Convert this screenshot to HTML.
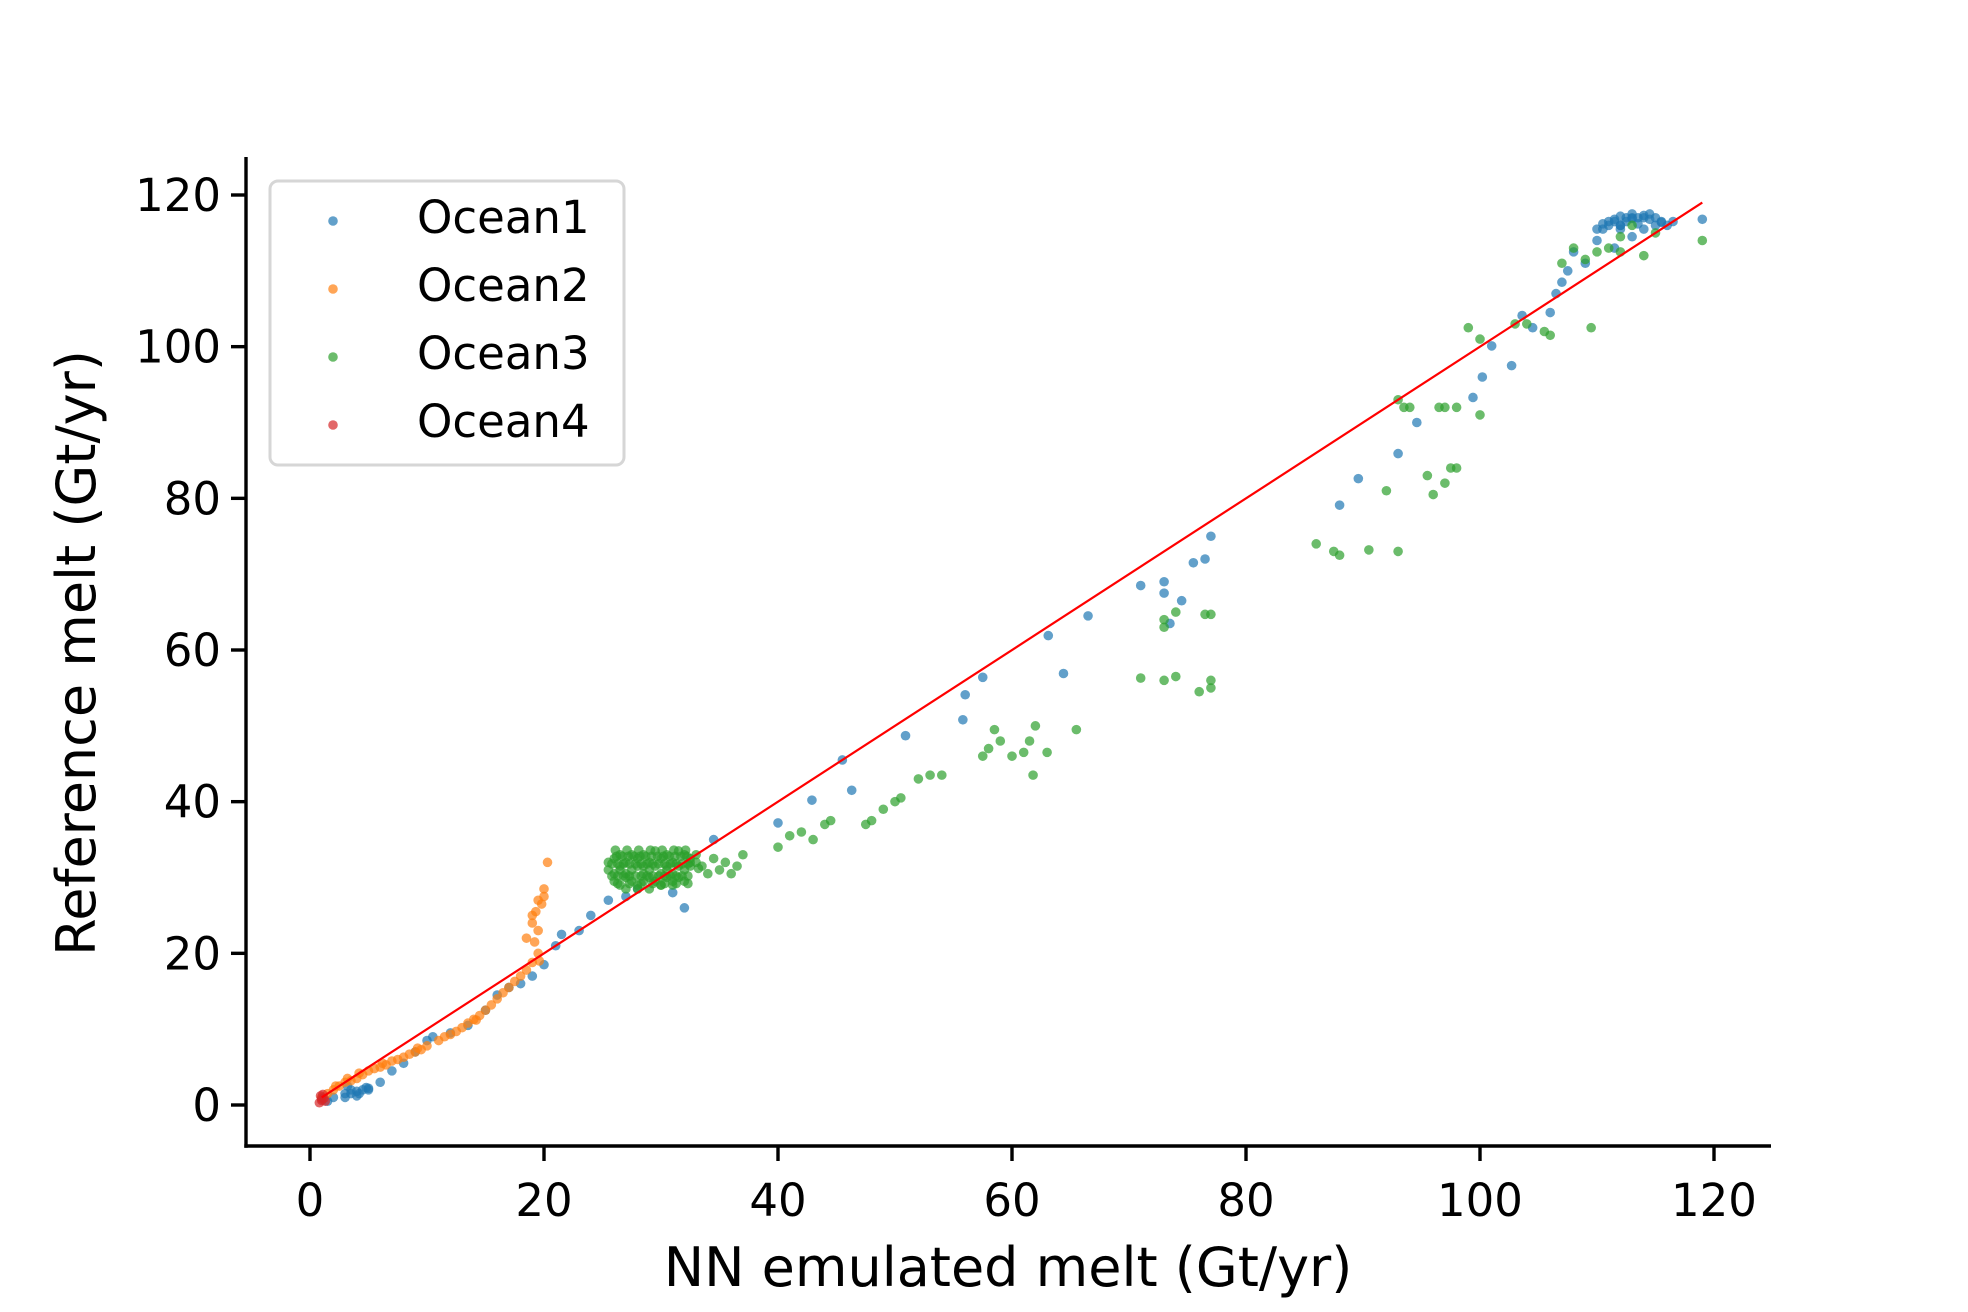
<!DOCTYPE html>
<html><head><meta charset="utf-8"><style>
body{margin:0;background:#fff}
svg{display:block;font-family:"DejaVu Sans","Liberation Sans",sans-serif}
</style></head><body>
<svg id="chart" width="1968" height="1312" viewBox="0 0 1968 1312" xmlns="http://www.w3.org/2000/svg">
<rect width="1968" height="1312" fill="#fff"/>
<g id="marks"></g>
<g id="axes"></g>
<text x="1008" y="1286" font-size="54" text-anchor="middle">NN emulated melt (Gt/yr)</text>
<text transform="translate(95,653) rotate(-90)" font-size="54" text-anchor="middle">Reference melt (Gt/yr)</text>
<g>
<rect x="270" y="181" width="354" height="284" rx="8" fill="#fff" fill-opacity="0.8" stroke="#d6d6d6" stroke-width="3"/>
<g id="legend-entries"></g>
</g>
</svg>
<script>
const xTicks=[0,20,40,60,80,100,120];
const yTicks=[0,20,40,60,80,100,120];
const seriesNames=["Ocean1","Ocean2","Ocean3","Ocean4"];
const colors=["#1f77b4","#ff7f0e","#2ca02c","#d62728"];
const o1x=[1.5,2,3,3.5,4,4.5,5,3,4,5,6,7,8,9,10,10.5,12,13.5,15,16,17,18,19,20,21,21.5,23,24,25.5,27,28,31,32,34.5,40,42.9,45.5,46.3,50.9,55.8,56,57.5,63.1,64.4,66.5,71,73,73,74.5,73.5,75.5,76.5,77,88,89.6,93,94.6,99.4,100.2,101,102.7,103.6,104.5,106,106.5,107,107.5,108,109,110,110.5,111,111.5,112,112.5,113,113.5,114,114.5,115,115.5,116,110,111,112,113,114,115,112,113,111.5,116.5,119,110.5,111.5,112.5,113.5,114.5,115.5,112,113,114,3.5,4.2,4.8,3.2];
const o1y=[0.5,1,1.5,1.5,1.8,2,2.2,1,1.2,2,3,4.5,5.5,7,8.5,9,9.5,10.5,12.5,14.5,15.5,16,17,18.5,21,22.5,23,25,27,27.5,28.5,28,26,35,37.2,40.2,45.5,41.5,48.7,50.8,54.1,56.4,61.9,56.9,64.5,68.5,69,67.5,66.5,63.5,71.5,72,75,79.1,82.6,85.9,90,93.3,96,100.1,97.5,104.1,102.5,104.5,107,108.5,110,112.5,111,114,115.5,116,116.5,116,117,117.5,117,117,117.5,117,116.5,116,115.5,116.5,116,117,115.5,116,115.5,114.5,113,116.5,116.8,116.2,116.8,116.5,116.2,116.8,116.4,117.2,116.9,117.3,2,1.5,2.3,2.5];
const o2x=[1,1.5,2,2.5,3,3.5,4,4.5,5,5.5,6,6.5,7,7.5,8,8.5,9,9.5,10,11,12,12.5,13,13.5,14,14.5,15,15.5,16,16.5,17,17.5,18,18.5,19,19.5,19.2,19.5,19,19.3,19.8,20,19.5,19,20.3,18.5,20,19.6,2.2,3.2,4.2,6.2,9.2,11.5,14.2];
const o2y=[1,1.5,2,2.5,3,3.2,3.5,4,4.5,4.8,5,5.3,5.8,6,6.3,6.7,7,7.3,7.8,8.5,9.3,9.7,10.2,10.8,11.3,11.8,12.5,13.2,14,14.8,15.5,16.3,17,17.8,18.8,20,21.5,23,24,25.5,26.5,27.5,27,25,32,22,28.5,19,2.5,3.5,4.2,5.5,7.5,9,11.2];
const o3x=[25.5,26,26.5,27,27.5,28,28.5,29,29.5,30,30.5,31,31.5,32,32.5,33,25.5,26,26.5,27,27.5,28,28.5,29,29.5,30,30.5,31,31.5,32,32.5,26,26.5,27,27.5,28,28.5,29,29.5,30,30.5,31,31.5,32,27,28,29,30,31,26.5,28.5,30.5,32.5,33,33.5,34,35,35.5,36,36.5,37,34.5,40,41,42,43,44,44.5,47.5,48,49,50,50.5,52,53,54,57.5,58,58.5,59,60,61,61.5,61.8,62,63,65.5,71,73,73,74,73,74,76,77,77,76.5,77,86,87.5,88,90.5,93,92,93,93.5,94,95.5,96,96.5,97,97.5,98,97,98,99,100,100,103,104,105.5,106,107,108,109,109.5,110,111,112,113,114,115,119,112,25.8,26.3,26.8,27.3,27.8,28.3,28.8,29.3,29.8,30.3,30.8,31.3,31.8,32.3,25.8,26.3,26.8,27.3,27.8,28.3,28.8,29.3,29.8,30.3,30.8,31.3,31.8,32.3,26.2,26.7,27.2,27.7,28.2,28.7,29.2,29.7,30.2,30.7,31.2,31.7,32.2,26.3,27.3,28.3,29.3,30.3,31.3,32.3,26.1,27.1,28.1,29.1,30.1,31.1,32.1,33.2];
const o3y=[32,32.5,33,32,33,32.5,33,32,33.5,32.5,33,32,33.5,33,32.5,33,31,30.5,31,30.5,31,31.5,30.5,31,31.5,30.5,31,30.5,31.5,31,32,29.5,29,30,29.5,29,29.5,30,29.5,29,30,29.5,30,29.5,28.5,28.5,28.5,29,29,31.5,31.5,31.5,31.5,32,31.5,30.5,31,32,30.5,31.5,33,32.5,34,35.5,36,35,37,37.5,37,37.5,39,40,40.5,43,43.5,43.5,46,47,49.5,48,46,46.5,48,43.5,50,46.5,49.5,56.3,56,63,56.5,64,65,54.5,55,56,64.7,64.7,74,73,72.5,73.2,73,81,93,92,92,83,80.5,92,92,84,84,82,92,102.5,101,91,103,103,102,101.5,111,113,111.5,102.5,112.5,113,114.5,116,112,115,114,112.5,31.8,31.8,31.8,31.8,31.8,31.8,31.8,31.8,31.8,31.8,31.8,31.8,31.8,31.8,30.2,30.2,30.2,30.2,30.2,30.2,30.2,30.2,30.2,30.2,30.2,30.2,30.2,30.2,32.8,32.8,32.8,32.8,32.8,32.8,32.8,32.8,32.8,32.8,32.8,32.8,32.8,29.2,29.2,29.2,29.2,29.2,29.2,29.2,33.6,33.6,33.6,33.6,33.6,33.6,33.6,31.2];
const o4x=[0.8,1,1.2,0.9,1.1,1,1.3];
const o4y=[0.3,0.6,0.9,1.2,1.4,0.8,0.5];
const allX=[o1x,o2x,o3x,o4x], allY=[o1y,o2y,o3y,o4y];
const NS="http://www.w3.org/2000/svg";
const sx=v=>310+v*(1404/120);
const sy=v=>1105-v*(910/120);
function mk(tag,attrs,parent){const e=document.createElementNS(NS,tag);for(const k in attrs)e.setAttribute(k,attrs[k]);parent.appendChild(e);return e;}
const marks=document.getElementById('marks');
for(let s=0;s<4;s++){
  const g=mk('g',{},marks);
  
  
  for(let i=0;i<allX[s].length;i++){
    const c=mk('circle',{cx:sx(allX[s][i]),cy:sy(allY[s][i]),r:4.8,fill:colors[s],'fill-opacity':0.7},g);
    
    
  }
}
const line=mk('line',{x1:sx(1),y1:sy(1),x2:sx(119),y2:sy(119),stroke:'#ff0000','stroke-width':2.2},marks);


const axes=document.getElementById('axes');
const ya=mk('line',{x1:246,y1:157,x2:246,y2:1147.7,stroke:'#000','stroke-width':3.4},axes);


const xa=mk('line',{x1:244.3,y1:1146,x2:1771,y2:1146,stroke:'#000','stroke-width':3.4},axes);


xTicks.forEach(t=>{
  const x=sx(t);
  const tk=mk('line',{x1:x,y1:1146,x2:x,y2:1161,stroke:'#000','stroke-width':3.4},axes);
  
  
  const tl=mk('text',{x:x,y:1216,'font-size':45,'text-anchor':'middle'},axes);
  tl.textContent=t;
  
  
});
yTicks.forEach(t=>{
  const y=sy(t);
  const tk=mk('line',{x1:231,y1:y,x2:246,y2:y,stroke:'#000','stroke-width':3.4},axes);
  
  
  const tl=mk('text',{x:221,y:y+16,'font-size':45,'text-anchor':'end'},axes);
  tl.textContent=t;
  
  
});
const leg=document.getElementById('legend-entries');
seriesNames.forEach((n,i)=>{
  const y=221+i*68;
  const c=mk('circle',{cx:333,cy:y,r:4.8,fill:colors[i],'fill-opacity':0.7},leg);
  
  
  const t=mk('text',{x:417,y:y+12,'font-size':45},leg);
  t.textContent=n;
  
  
});
</script>
</body></html>
